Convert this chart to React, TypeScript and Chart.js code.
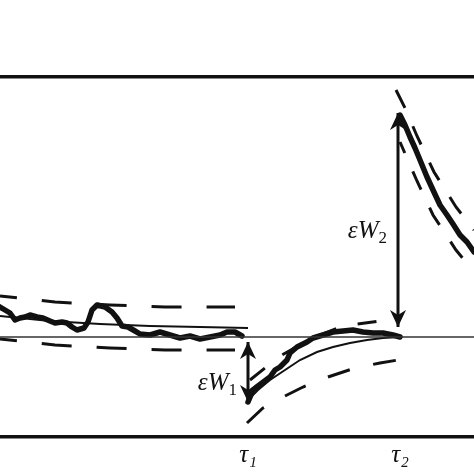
import { useEffect, useRef } from "react";
import { Chart, registerables, type Plugin } from "chart.js";

Chart.register(...registerables);

type Pt = [number, number];

// axis ranges (time on x, deviation on y)
const X_MIN = 0;
const X_MAX = 11.85;
const Y_MIN = -5;
const Y_MAX = 13;

// jump times and their tick labels
const TAU_VALUES = [6.2, 10];
const TAU_LABELS = ["τ₁", "τ₂"];

// observed (noisy) trajectory, one piece per interval
const PATH_LEFT: Pt[] = [
  [0, 1.5], [0.125, 1.35], [0.25, 1.2], [0.375, 0.85], [0.5, 0.95], [0.625, 1.0],
  [0.75, 1.1], [0.925, 1.0], [1.075, 0.95], [1.25, 0.8], [1.375, 0.7], [1.55, 0.75],
  [1.675, 0.7], [1.8, 0.5], [1.925, 0.35], [2.1, 0.45], [2.2, 0.75], [2.3, 1.35],
  [2.425, 1.6], [2.625, 1.5], [2.8, 1.25], [2.925, 0.95], [3.05, 0.55], [3.2, 0.5],
  [3.375, 0.3], [3.5, 0.15], [3.75, 0.1], [4.0, 0.25], [4.25, 0.1], [4.5, -0.05],
  [4.75, 0.05], [5.0, -0.1], [5.25, 0], [5.5, 0.1], [5.675, 0.25], [5.875, 0.25], [6.05, 0.05],
];
const PATH_MID: Pt[] = [
  [6.2, -3.25], [6.325, -2.65], [6.45, -2.45], [6.55, -2.3], [6.75, -2.0], [6.875, -1.65],
  [7.0, -1.5], [7.175, -1.15], [7.25, -0.8], [7.425, -0.5], [7.675, -0.25], [7.825, -0.05],
  [8.075, 0.1], [8.325, 0.25], [8.575, 0.3], [8.825, 0.35], [9.075, 0.25], [9.325, 0.2],
  [9.575, 0.2], [9.825, 0.1], [10.0, 0],
];
const PATH_RIGHT: Pt[] = [
  [10.0, 11.1], [10.125, 10.6], [10.25, 10.0], [10.375, 9.45], [10.5, 8.85], [10.675, 8.0],
  [10.825, 7.35], [11.0, 6.6], [11.175, 6.1], [11.325, 5.65], [11.5, 5.1], [11.675, 4.75],
  [11.85, 4.25],
];

// mean curves
const MEAN_LEFT: Pt[] = [[0, 1.05], [1.25, 0.8], [2.5, 0.65], [3.75, 0.55], [5.0, 0.5], [6.2, 0.45]];
const MEAN_MID: Pt[] = [
  [6.25, -3.05], [6.45, -2.65], [6.75, -2.15], [7.125, -1.65], [7.5, -1.15], [7.925, -0.75],
  [8.325, -0.5], [8.75, -0.3], [9.175, -0.15], [9.575, -0.05], [10.0, 0],
];

// confidence envelopes (dashed)
const UPPER_LEFT: Pt[] = [[0, 2.05], [1.375, 1.75], [2.75, 1.6], [4.125, 1.5], [5.875, 1.5]];
const LOWER_LEFT: Pt[] = [[0, -0.1], [1.375, -0.4], [2.75, -0.55], [4.125, -0.65], [5.875, -0.65]];
const UPPER_MID: Pt[] = [
  [6.25, -2.15], [6.625, -1.55], [7.05, -0.9], [7.5, -0.4], [8.0, 0.1], [8.5, 0.5],
  [8.925, 0.65], [9.5, 0.8], [9.95, 0.85],
];
const LOWER_MID: Pt[] = [
  [6.175, -4.3], [6.575, -3.55], [7.075, -3.0], [7.575, -2.5], [8.2, -2.0], [8.875, -1.55],
  [9.5, -1.3], [9.95, -1.15],
];
const UPPER_RIGHT: Pt[] = [[9.9, 12.35], [10.125, 11.45], [10.425, 10.05], [10.85, 8.25], [11.4, 6.5], [11.85, 5.35]];
const LOWER_RIGHT: Pt[] = [[10.0, 9.75], [10.425, 7.8], [10.825, 6.1], [11.4, 4.35], [11.85, 3.25]];

// reference level
const BASELINE: Pt[] = [[X_MIN, 0], [X_MAX, 0]];

// jump arrows
const ARROW_X = [6.2, 9.95];
const ARROW_FROM = [-0.25, 0.5];
const ARROW_TO = [-3.25, 11.2];
const ARROW_SUBS = ["1", "2"];

const INK = "#111";
const SERIF = "'Liberation Serif', 'DejaVu Serif', serif";

const xy = (pts: Pt[]) => pts.map(([x, y]) => ({ x, y }));

const arrowPlugin: Plugin<"line"> = {
  id: "jumpArrows",
  afterDatasetsDraw(chart) {
    const { ctx } = chart;
    const xs = chart.scales.x;
    const ys = chart.scales.y;
    ctx.save();
    ctx.fillStyle = INK;
    ARROW_X.forEach((xv, i) => {
      const px = xs.getPixelForValue(xv);
      const a = ys.getPixelForValue(ARROW_FROM[i]);
      const b = ys.getPixelForValue(ARROW_TO[i]);
      [a, b].forEach((tip, j) => {
        const other = j === 0 ? b : a;
        const dir = other > tip ? 1 : -1;
        ctx.beginPath();
        ctx.moveTo(px, tip);
        ctx.lineTo(px - 8, tip + dir * 17);
        ctx.lineTo(px, tip + dir * 12);
        ctx.lineTo(px + 8, tip + dir * 17);
        ctx.closePath();
        ctx.fill();
      });
      // label εW_i, the arrow sits just right of it
      const mid = (a + b) / 2 + 10;
      ctx.font = `italic 25px ${SERIF}`;
      const main = "εW";
      const wMain = ctx.measureText(main).width;
      ctx.font = `17px ${SERIF}`;
      const wSub = ctx.measureText(ARROW_SUBS[i]).width;
      const x0 = px - 11 - wMain - wSub;
      ctx.textBaseline = "alphabetic";
      ctx.textAlign = "left";
      ctx.font = `italic 25px ${SERIF}`;
      ctx.fillText(main, x0, mid + 8);
      ctx.font = `17px ${SERIF}`;
      ctx.fillText(ARROW_SUBS[i], x0 + wMain, mid + 13);
    });
    ctx.restore();
  },
};

export default function App() {
  const canvasRef = useRef<HTMLCanvasElement>(null);

  useEffect(() => {
    document.body.style.margin = "0";
    if (!canvasRef.current) return;

    const pathStyle = { borderColor: INK, borderWidth: 5.5, borderJoinStyle: "round" as const, borderCapStyle: "round" as const };
    const meanStyle = { borderColor: INK, borderWidth: 2 };
    const dashStyle = { borderColor: INK, borderWidth: 3 };
    const arrowDatasets = ARROW_X.map((xv, i) => ({
      data: [{ x: xv, y: ARROW_FROM[i] }, { x: xv, y: ARROW_TO[i] }],
      borderColor: INK,
      borderWidth: 3,
    }));

    const chart = new Chart(canvasRef.current, {
      type: "line",
      data: {
        datasets: [
          { data: xy(BASELINE), borderColor: "#333", borderWidth: 1.3 },
          { data: xy(MEAN_LEFT), ...meanStyle },
          { data: xy(MEAN_MID), ...meanStyle },
          { data: xy(UPPER_LEFT), ...dashStyle, borderDash: [30, 25], borderDashOffset: 13 },
          { data: xy(LOWER_LEFT), ...dashStyle, borderDash: [30, 25], borderDashOffset: 13 },
          { data: xy(UPPER_MID), ...dashStyle, borderDash: [19, 22] },
          { data: xy(LOWER_MID), ...dashStyle, borderDash: [23, 24] },
          { data: xy(UPPER_RIGHT), ...dashStyle, borderDash: [20, 20] },
          { data: xy(LOWER_RIGHT), ...dashStyle, borderDash: [20, 20], borderDashOffset: 8 },
          { data: xy(PATH_LEFT), ...pathStyle },
          { data: xy(PATH_MID), ...pathStyle },
          { data: xy(PATH_RIGHT), ...pathStyle },
          ...arrowDatasets,
        ],
      },
      options: {
        animation: false,
        responsive: true,
        maintainAspectRatio: false,
        layout: { padding: { top: 77, left: 0, right: 0, bottom: 0 } },
        elements: { point: { radius: 0, hoverRadius: 0 }, line: { tension: 0, fill: false } },
        events: [],
        scales: {
          x: {
            type: "linear",
            position: "bottom",
            min: X_MIN,
            max: X_MAX,
            grid: { display: false, drawTicks: false },
            border: { display: true, color: INK, width: 3.5 },
            afterBuildTicks: (axis) => {
              axis.ticks = TAU_VALUES.map((value) => ({ value }));
            },
            ticks: {
              autoSkip: false,
              maxRotation: 0,
              padding: 3.5,
              color: INK,
              font: { family: SERIF, size: 25, style: "italic" },
              callback: (_v, i) => TAU_LABELS[i],
            },
          },
          x2: {
            type: "linear",
            position: "top",
            min: X_MIN,
            max: X_MAX,
            grid: { display: false, drawTicks: false },
            border: { display: true, color: INK, width: 3.5 },
            ticks: { display: false },
          },
          y: { type: "linear", display: false, min: Y_MIN, max: Y_MAX },
        },
        plugins: { legend: { display: false }, tooltip: { enabled: false } },
      },
      plugins: [arrowPlugin],
    });

    return () => chart.destroy();
  }, []);

  return (
    <div style={{ position: "relative", width: 474, height: 474, background: "#fff" }}>
      <canvas ref={canvasRef} />
    </div>
  );
}
